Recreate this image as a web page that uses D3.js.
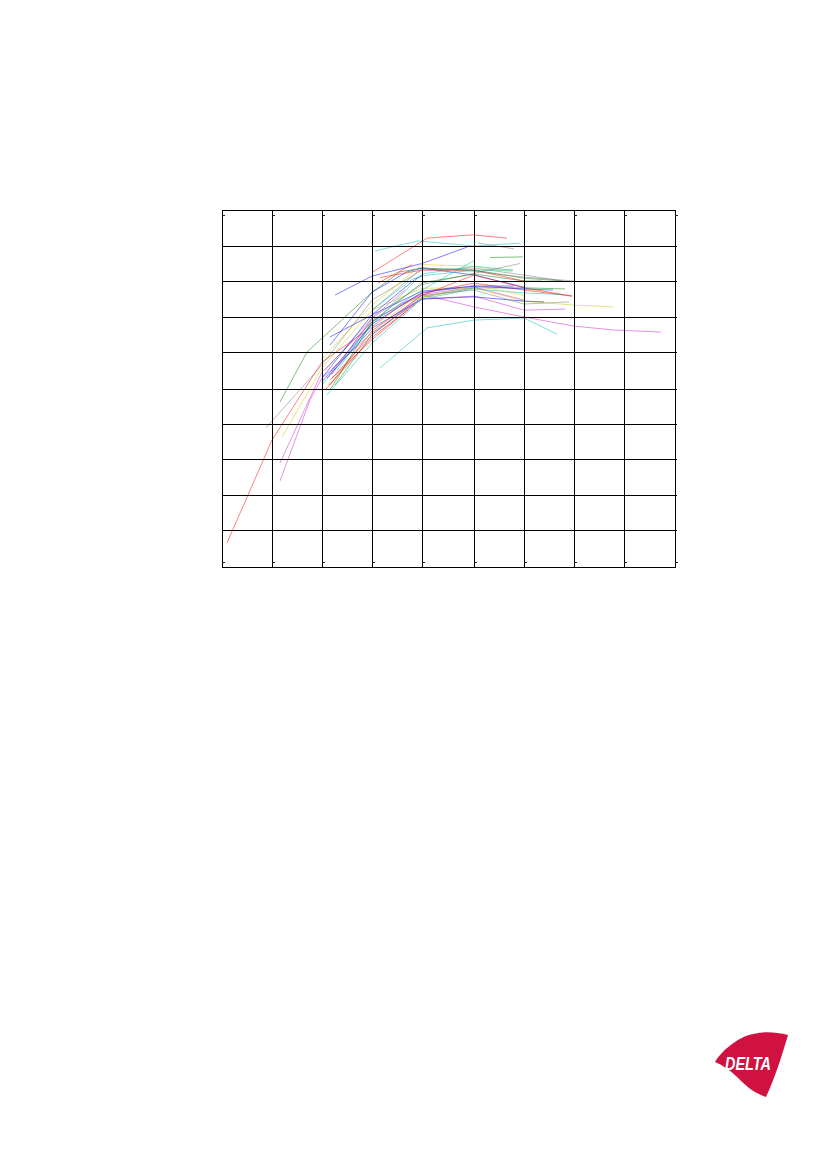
<!DOCTYPE html>
<html><head><meta charset="utf-8">
<script src="https://cdn.jsdelivr.net/npm/d3@7/dist/d3.min.js"></script>
<style>html,body{margin:0;padding:0;background:#fff}svg{display:block}</style>
</head><body><svg id="c" width="827" height="1169"></svg>
<script>
const xTicks=[0,1,2,3,4,5,6,7,8,9];
const yTicks=[0,1,2,3,4,5,6,7,8,9,10];
const s01=[[3.06,8.86],[3.92,9.14],[5,9],[5.92,9.08]];
const s02=[[3.02,8.26],[4.1,9.22],[4.98,9.31],[5.66,9.22]];
const s03=[[2.26,7.61],[3,8.14],[4,8.5],[4.87,8.97]];
const s04=[[5.08,9.08],[5.8,8.92]];
const s05=[[5.32,8.67],[5.98,8.69]];
const s06=[[1.16,4.63],[1.7,6],[3,7.69],[3.56,8.26],[4,8.37],[5,8.31],[6,8.08],[6.78,8]];
const s07=[[0.88,3.89],[2,5.65],[3,7.47],[4,8.31],[5,8.37],[6,8.17],[6.78,8]];
const s08=[[0.1,0.65],[1,3.54],[2,5.73],[3,6.72],[3.6,7.35],[4,7.66],[5,7.94],[6,7.75],[6.96,7.58]];
const s09=[[1.16,2.89],[2,5.46],[3,6.86],[3.6,7.38],[4,7.62],[5,7.83],[6,7.47]];
const s10=[[1.16,2.39],[1.76,4.69],[2,5.3],[3,6.55],[4,7.5],[5,7.58],[6,7.19],[6.82,7.22]];
const s11=[[1.2,3.63],[2,5.57],[3,7.19],[4,7.8],[5,7.81],[6,7.44],[7,7.33],[7.78,7.28]];
const s12=[[3.16,5.57],[4.1,6.69],[5,6.91],[6,6.97],[6.66,6.51]];
const s13=[[2.16,5.24],[3,6.49],[4,7.62],[5,7.28],[6,7],[7,6.74],[7.78,6.63],[8.72,6.57]];
const s14=[[2.2,5.3],[3,6.35],[3.72,7.2]];
const s15=[[2.1,4.83],[3,6.25],[4,7.5],[5,7.78],[6,7.67],[6.8,7.62]];
const s16=[[2.16,6.43],[3,7.06],[4,7.72],[5,7.86],[5.8,7.86]];
const s17=[[2.16,6.2],[3,7.69],[3.7,8.26],[4,8.37],[5,8.17],[6,7.83]];
const s18=[[1.98,5.78],[3,7.33],[4,8.47],[5,8.42],[5.76,8.26]];
const s19=[[2,5.11],[3,6.78],[4,8.2],[5,8.42],[5.78,8.31]];
const s20=[[2.06,5.5],[3,6.97],[4,7.9],[5,8.22],[5.92,8.5]];
const s21=[[2.3,5.5],[3,6.86],[4,7.75],[5,8.58]];
const s22=[[2.16,5.11],[3,6.6],[4,7.6],[5,8.17],[6,7.81],[6.96,7.58]];
const s23=[[2.26,5.11],[3,6.5],[4,7.55],[5,7.81],[6,7.81],[6.82,7.78]];
const s24=[[2,5.2],[3,6.8],[4,7.68],[5,7.86],[6,7.78],[6.58,7.75]];
const s25=[[2.1,5.3],[3,6.68],[4,7.5],[5,7.56],[6,7.44],[6.4,7.42]];
const s26=[[2.16,5.4],[3,6.92],[4,7.6],[5,7.75],[6,7.36],[6.9,7.42]];
const s27=[[2.06,4.97],[3,6.42],[3.86,7.35]];
const s28=[[2.12,5.11],[3,6.6],[3.76,7.45],[5,7.89],[6,7.6]];
const s29=[[2.16,4.97],[3,6.86],[4,7.95],[5,8.2],[6,8],[6.36,8]];
const s30=[[2.2,5.4],[3,6.97],[3.66,7.75]];
const s31=[[2,5.3],[3,7.06],[3.86,8.05],[4,8.15]];
const s32=[[3.12,7.94],[3.8,8.47]];
const s33=[[3.16,8.1],[4,8.31],[5,8.31],[6,8]];
const s34=[[3,7.19],[4,8.37],[5,8.28],[6,8.11],[7,8]];
const s35=[[3,7.19],[3.8,8.05],[4,8.15],[5,8.31],[5.78,8.31]];
const series=[s01,s02,s03,s04,s05,s06,s07,s08,s09,s10,s11,s12,s13,s14,s15,s16,s17,s18,s19,s20,s21,s22,s23,s24,s25,s26,s27,s28,s29,s30,s31,s32,s33,s34,s35];
const colors=["#00bcbc","#ff0000","#0000ff","#777777","#008000","#008000","#777777","#ff0000","#cc22cc","#cc22cc","#c8c800","#00bcbc","#cc22cc","#ff0000","#00bcbc","#0000ff","#0000ff","#c8c800","#00bcbc","#777777","#00bcbc","#ff0000","#008000","#0000ff","#0000ff","#777777","#ff0000","#c8c800","#008000","#cc22cc","#0000ff","#ff0000","#ff0000","#777777","#00bcbc"];

const svg=d3.select("#c");
const xPos=[222,272,322,372,422,474,524,574,624,675];
const yPos=[567,530,495,459,424,389,352,317,281,246,210];
const x=d3.scaleLinear().domain(xTicks).range(xPos);
const y=d3.scaleLinear().domain(yTicks).range(yPos);
const line=d3.line().x(d=>x(d[0])).y(d=>y(d[1]));
svg.append("g").selectAll("path").data(series).join("path")
  .attr("d",line).attr("fill","none")
  .attr("stroke",(d,i)=>colors[i]).attr("stroke-width",0.5);
const axB=d3.axisBottom(x).tickValues(xTicks).tickSize(-(567-210)).tickSizeOuter(0).tickFormat("").offset(0.5);
const axL=d3.axisLeft(y).tickValues(yTicks).tickSize(-(677-222)).tickSizeOuter(0).tickFormat("").offset(0.5);
const gB=svg.append("g").attr("transform","translate(0,567)").call(axB);
const gL=svg.append("g").attr("transform","translate(222,0)").call(axL);
[gB,gL].forEach(g=>{
  g.selectAll("path").attr("stroke","#000").attr("shape-rendering","crispEdges");
  g.selectAll("line").attr("stroke","#000").attr("stroke-width",1).attr("shape-rendering","crispEdges");
});
gL.selectAll(".tick").filter(d=>d===0||d===10).select("line").attr("x2",675-222+1);
// small inner tick marks at the top and bottom of every column line
const marks=svg.append("g").attr("stroke","#222").attr("stroke-width",1).attr("shape-rendering","crispEdges");
[215,562].forEach(py=>{
  marks.selectAll(null).data(xTicks).join("line")
   .attr("x1",d=>x(d)).attr("x2",d=>x(d)+3)
   .attr("y1",py+.5).attr("y2",py+.5);
});
// logo
const logo=svg.append("g");
logo.append("path")
 .attr("d","M788,1035 C768,1030 748,1032 735,1042 C726,1048 719,1055 715,1062 C722,1065 730,1070 736,1076 C745,1085 752,1092 766,1097 C775,1078 782,1055 788,1035 Z")
 .attr("fill","#cf1240");
logo.append("text").attr("x",725).attr("y",1070)
 .attr("font-family","Liberation Sans").attr("font-weight","bold").attr("font-style","italic")
 .attr("font-size",19).attr("textLength",46).attr("lengthAdjust","spacingAndGlyphs").attr("fill","#fff").text("DELTA");
</script></body></html>
